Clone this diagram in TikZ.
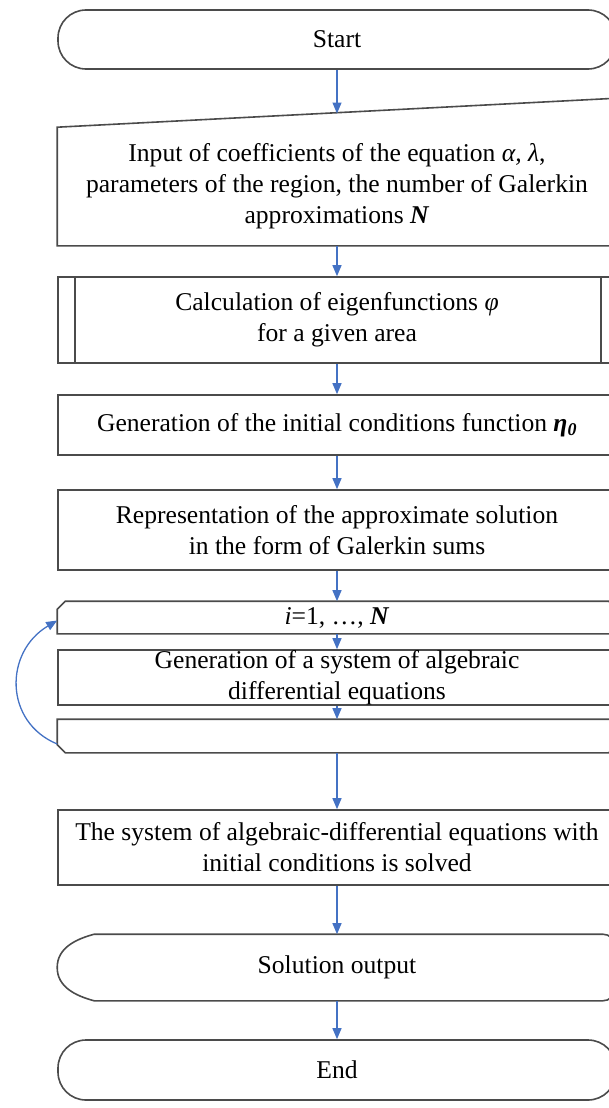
\documentclass[tikz,border=0pt]{standalone}
\usepackage{fontspec}
\setmainfont{Liberation Serif}
\usetikzlibrary{arrows.meta}
\definecolor{boxGray}{RGB}{75, 75, 75}
\definecolor{flowBlue}{RGB}{68, 114, 196}

\begin{document}
\begin{tikzpicture}[x=1pt, y=-1pt,
    font=\fontsize{25.6}{31}\selectfont,
    edge/.style={draw=boxGray, line width=1.6pt},
    block/.style={edge, rectangle, minimum width=558pt, align=center, inner sep=0pt},
    bare/.style={block, draw=none},
    terminal/.style={block, rounded corners=28pt},
    flow/.style={draw=flowBlue, line width=1.3pt, -{Triangle[width=9pt, length=11pt]}}]
        \useasboundingbox (0,0) rectangle (609,1108);
        \clip (0,0) rectangle (609,1108);

        \node[terminal, minimum height=59pt] (start) at (337,39.5) {Start};

        \node[bare, minimum height=117pt] (inp) at (337,186.5) {Input of coefficients of the equation \textit{α, λ},\\
            parameters of the region, the number of Galerkin\\
            approximations \textbf{\textit{N}}};
        \draw[edge] (inp.south west) -- (inp.south east) -- ([yshift=29pt]inp.north east) -- (inp.north west) -- cycle;
        \coordinate (inTop) at (337,113.5);

        \node[block, minimum height=86pt] (calc) at (337,320) {Calculation of eigenfunctions \textit{φ}\\ for a given area};
        \draw[edge] ([xshift=18pt]calc.north west) -- ([xshift=18pt]calc.south west);
        \draw[edge] ([xshift=-16pt]calc.north east) -- ([xshift=-16pt]calc.south east);

        \node[block, minimum height=60pt] (init) at (337,425) {Generation of the initial conditions function \textbf{\textit{η\textsubscript{0}}}};

        \node[block, minimum height=80pt] (repr) at (337,530) {Representation of the approximate solution\\ in the form of Galerkin sums};

        \node[bare, minimum height=31pt] (lstart) at (337,617.5) {\textit{i}=1, …, \textbf{\textit{N}}};
        \draw[edge] (lstart.south west) -- ([yshift=-8pt]lstart.north west) -- ([xshift=8pt]lstart.north west)
            -- ([xshift=-8pt]lstart.north east) -- ([yshift=-8pt]lstart.north east) -- (lstart.south east) -- cycle;

        \node[block, minimum height=55pt] (gensys) at (337,677.5) {Generation of a system of algebraic\\ differential equations};

        \node[bare, minimum height=32pt] (lend) at (337,736) {};
        \draw[edge] (lend.north west) -- ([yshift=8pt]lend.south west) -- ([xshift=8pt]lend.south west)
            -- ([xshift=-8pt]lend.south east) -- ([yshift=8pt]lend.south east) -- (lend.north east) -- cycle;

        \node[block, minimum height=75pt] (solved) at (337,847.5) {The system of algebraic-differential equations with\\ initial conditions is solved};

        \node[bare, minimum height=65pt] (out) at (337,967.5) {Solution output};
        \draw[edge] ([xshift=37pt]out.north west) -- ([xshift=-14pt]out.north east) to[out=0, in=90] (out.east)
            to[out=-90, in=0] ([xshift=-14pt]out.south east) -- ([xshift=37pt]out.south west)
            to[out=165, in=-90] (out.west) to[out=90, in=195] cycle;

        \node[terminal, minimum height=60pt] (stop) at (337,1070) {End};

        \draw[flow] (start) -- (inTop);
        \draw[flow] (inp) -- (calc);
        \draw[flow] (calc) -- (init);
        \draw[flow] (init) -- (repr);
        \draw[flow] (repr) -- (lstart);
        \draw[flow] (lstart) -- (gensys);
        \draw[flow] (gensys) -- (lend);
        \draw[flow] (lend) -- (solved);
        \draw[flow] (solved) -- (out);
        \draw[flow] (out) -- (stop);
        \draw[flow] ([yshift=-8pt]lend.west) .. controls (4,722) and (4,652) .. ([yshift=-3pt]lstart.west);
      \end{tikzpicture}
\end{document}
